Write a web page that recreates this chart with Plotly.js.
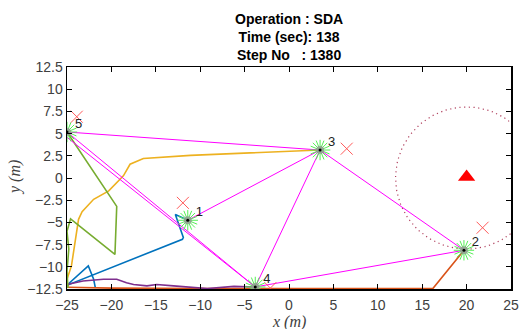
<!DOCTYPE html>
<html><head><meta charset="utf-8">
<script src="https://cdn.plot.ly/plotly-3.0.1.min.js"></script>
<style>html,body{margin:0;padding:0;background:#fff}#c{width:519px;height:329px}</style>
</head><body><div id="c"></div>
<script>
// Agent positions (current)
const agentIds = ['1','2','3','4','5'];
const agentX = [-11.4, 19.7, 3.5, -3.8, -25.0];
const agentY = [-4.76, -8.14, 3.15, -12.27, 5.18];
// Target (x) markers
const targetX = [-11.95, 21.8, 6.5, -2.1, -23.9];
const targetY = [-2.8, -5.6, 3.3, -12.4, 6.9];
// Threat (triangle) and its circle
const threatX = [20.0];
const threatY = [0.1];
const threatRadius = 8;
// Trajectories
const traj1X = [-21.8, -22.0, -22.6, -24.7, -25.0, -24.8, -12.0, -11.9, -12.8, -11.4];
const traj1Y = [-12.4, -11.4, -9.9, -11.8, -12.3, -12.0, -6.9, -6.7, -4.1, -4.76];
const traj2X = [-25.0, -20.0, -10.0, 0.0, 10.0, 16.2, 19.7];
const traj2Y = [-12.3, -12.4, -12.45, -12.45, -12.45, -12.45, -8.14];
const traj3X = [-24.9, -25.0, -24.5, -24.1, -23.7, -23.3, -22.0, -20.3, -18.65, -17.9, -16.4, -11.1, -3.0, 3.5];
const traj3Y = [-12.3, -11.4, -9.9, -7.3, -4.65, -3.8, -2.4, -1.45, 0.25, 1.55, 2.2, 2.55, 2.85, 3.15];
const traj4X = [-25.0, -23.2, -20.9, -19.4, -18.3, -17.5, -16.0, -14.9, -13.0, -9.2, -6.2, -3.8];
const traj4Y = [-12.0, -11.6, -11.4, -11.4, -11.8, -12.0, -12.15, -12.0, -12.15, -12.45, -12.2, -12.27];
const traj5X = [-24.9, -25.0, -24.8, -25.0, -24.6, -19.6, -19.4, -25.0];
const traj5Y = [-12.4, -10.5, -8.0, -6.0, -4.6, -8.6, -3.2, 5.18];
// Communication graph edges (agent index pairs, 0-based)
const edgeFrom = [4, 4, 4, 0, 2, 2, 3];
const edgeTo   = [2, 3, 3, 2, 3, 1, 1];

const titleText = 'Operation : SDA<br>Time (sec): 138<br>Step No\u00a0\u00a0\u00a0: 1380';

const trajColors = ['#0072BD', '#D95319', '#EDB120', '#7E2F8E', '#77AC30'];
const trajs = [[traj1X, traj1Y], [traj2X, traj2Y], [traj3X, traj3Y], [traj4X, traj4Y], [traj5X, traj5Y]];

const traces = [];
// circle around threat
const circ = {x: [], y: []};
for (let i = 0; i <= 120; i++) {
  const a = 2 * Math.PI * i / 120;
  circ.x.push(threatX[0] + threatRadius * Math.cos(a));
  circ.y.push(threatY[0] - 0.1 + threatRadius * Math.sin(a));
}
traces.push({x: circ.x, y: circ.y, mode: 'lines', line: {color: '#B0405E', width: 1.2, dash: '1.2px,3.5px'}, hoverinfo: 'skip'});
// trajectories
trajs.forEach((t, i) => traces.push({x: t[0], y: t[1], mode: 'lines', line: {color: trajColors[i], width: 1.6}}));
// edges
edgeFrom.forEach((f, k) => {
  const t = edgeTo[k];
  const off = (k === 1) ? 0.6 : 0;
  traces.push({x: [agentX[f], agentX[t]], y: [agentY[f] - off, agentY[t]], mode: 'lines', line: {color: '#FF00FF', width: 1}});
});
// targets
traces.push({x: targetX, y: targetY, mode: 'markers', marker: {symbol: 'x-thin-open', size: 12, color: '#FF5A5A', line: {color: '#FF5A5A', width: 1}}});
// threat
traces.push({x: threatX, y: threatY, mode: 'markers', marker: {symbol: 'triangle-up', size: 15, color: '#FF0000'}});
// sensor bursts
[0, 22.5].forEach(ang => traces.push({x: agentX, y: agentY, mode: 'markers', marker: {symbol: 'asterisk-open', size: 17, angle: ang, color: '#55EE55', line: {color: '#55EE55', width: 1}}}));
// agent bodies
traces.push({x: agentX, y: agentY, mode: 'markers', marker: {symbol: 'circle', size: 8, color: 'rgba(150,150,150,0.8)'}});
traces.push({x: agentX, y: agentY, mode: 'markers', marker: {symbol: 'circle', size: 3, color: '#000'}});
// labels
traces.push({x: agentX.map(v => v + 1.3), y: agentY.map(v => v + 0.8), mode: 'text', text: agentIds,
  textfont: {family: 'Liberation Sans, Arial, sans-serif', size: 13, color: '#222'}, textposition: 'middle center'});

const axFont = {family: 'Liberation Sans, Arial, sans-serif', size: 14, color: '#404040'};
const layout = {
  width: 519, height: 329,
  margin: {l: 67, r: 8, t: 67, b: 40},
  paper_bgcolor: '#fff', plot_bgcolor: '#fff',
  showlegend: false,
  xaxis: {range: [-25, 25], tickvals: [-25,-20,-15,-10,-5,0,5,10,15,20,25], ticks: 'inside', ticklen: 5,
    tickcolor: '#000', showgrid: false, zeroline: false, showline: true, linecolor: '#000', linewidth: 1.5,
    mirror: 'allticks', tickfont: axFont, ticklabelstandoff: 3},
  yaxis: {range: [-12.5, 12.5], tickvals: [-12.5,-10,-7.5,-5,-2.5,0,2.5,5,7.5,10,12.5], ticks: 'inside', ticklen: 5,
    tickcolor: '#000', showgrid: false, zeroline: false, showline: true, linecolor: '#000', linewidth: 1.5,
    mirror: 'allticks', tickfont: axFont},
  annotations: [
    {text: '<b>' + titleText + '</b>', xref: 'paper', yref: 'paper', x: 0.5, y: 1, yanchor: 'bottom', xanchor: 'center',
      yshift: 2, showarrow: false, font: {family: 'Liberation Sans, Arial, sans-serif', size: 14, color: '#000'}},
    {text: '<i>x</i> <i>(m)</i>', xref: 'paper', yref: 'paper', x: 0.5, y: 0, yanchor: 'middle', xanchor: 'center', yshift: -33, showarrow: false,
      font: {family: 'Liberation Serif, DejaVu Serif, serif', size: 16, color: '#404040'}},
    {text: '<i>y</i> <i>(m)</i>', xref: 'paper', yref: 'paper', x: 0, y: 0.5, xanchor: 'center', yanchor: 'middle', xshift: -52, textangle: -90, showarrow: false,
      font: {family: 'Liberation Serif, DejaVu Serif, serif', size: 16, color: '#404040'}}
  ]
};
Plotly.newPlot('c', traces, layout, {staticPlot: true, displayModeBar: false});
</script></body></html>
